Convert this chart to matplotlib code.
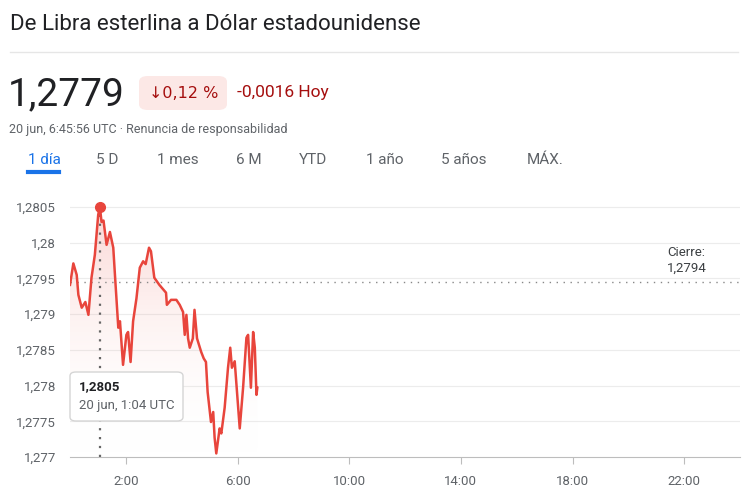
import matplotlib
matplotlib.use("Agg")
import matplotlib.pyplot as plt
import numpy as np
from matplotlib.patches import FancyBboxPatch, Polygon

hours = [0,0.12,0.24,0.3,0.42,0.55,0.66,0.77,0.89,1.01,1.07,1.13,1.2,1.31,1.43,1.55,1.61,1.73,1.79,1.9,2.02,2.08,2.17,2.26,2.38,2.5,2.62,2.71,2.83,2.9,3.02,3.2,3.44,3.47,3.62,3.81,3.93,4.05,4.11,4.17,4.23,4.29,4.4,4.46,4.55,4.7,4.79,4.87,4.93,5.05,5.13,5.18,5.24,5.36,5.42,5.54,5.66,5.74,5.8,5.9,6.08,6.2,6.32,6.38,6.48,6.56,6.62,6.68,6.71]
values = [1.27941,1.27971,1.27955,1.27927,1.27909,1.27917,1.27899,1.27951,1.27983,1.28039,1.2805,1.28029,1.28031,1.27997,1.28015,1.27993,1.27955,1.27881,1.2789,1.27829,1.27871,1.27875,1.27833,1.2789,1.27922,1.27965,1.27974,1.2797,1.27993,1.27988,1.27951,1.27941,1.2793,1.27913,1.2792,1.2792,1.27913,1.27903,1.27871,1.27899,1.27866,1.27853,1.27866,1.27906,1.27866,1.27847,1.27838,1.27833,1.27791,1.27749,1.27763,1.27727,1.27705,1.2774,1.27733,1.27769,1.27825,1.27853,1.27825,1.27834,1.2774,1.27797,1.27867,1.27871,1.27797,1.27875,1.27853,1.27787,1.27797]
close_value = 1.27945
yticks = [1.277,1.2775,1.278,1.2785,1.279,1.2795,1.28,1.2805]
ytick_labels = ["1,277","1,2775","1,278","1,2785","1,279","1,2795","1,28","1,2805"]
xticks = [2,6,10,14,18,22]
xtick_labels = ["2:00","6:00","10:00","14:00","18:00","22:00"]
tabs = ["1 día","5 D","1 mes","6 M","YTD","1 año","5 años","MÁX."]
tab_x = [28,96,157,236,299,366,441,527]
peak_h, peak_v = 1.07, 1.2805

W, H = 745, 493
fig = plt.figure(figsize=(W/100, H/100), dpi=100)
plt.rcParams['font.family'] = ['Roboto', 'DejaVu Sans']
def fx(x): return x/W
def fy(y): return 1-y/H

fig.text(fx(10), fy(24), "De Libra esterlina a Dólar estadounidense", fontsize=16, color="#202124", va="center")
fig.add_artist(plt.Line2D([fx(10), fx(738)], [fy(52), fy(52)], color="#e6e6e6", lw=1))
fig.text(fx(8), fy(95), "1,2779", fontsize=28, color="#202124", va="center")
fig.add_artist(FancyBboxPatch((fx(139), fy(110)), fx(88), 34/H, boxstyle="round,pad=0,rounding_size=0.012", fc="#fce8e6", ec="none"))
fig.text(fx(149), fy(93), "↓0,12 %", fontsize=11.5, color="#a50e0e", va="center", family=['DejaVu Sans'])
fig.text(fx(237), fy(93), "-0,0016 Hoy", fontsize=12.5, color="#a50e0e", va="center")
fig.text(fx(9), fy(129), "20 jun, 6:45:56 UTC · Renuncia de responsabilidad", fontsize=9, color="#5f6368", va="center")
for t, x in zip(tabs, tab_x):
    fig.text(fx(x), fy(160), t, fontsize=11, color="#1a73e8" if t == "1 día" else "#5f6368", va="center")
fig.add_artist(plt.Line2D([fx(28), fx(59)], [fy(172), fy(172)], color="#1a73e8", lw=3))

ax = fig.add_axes([fx(70), fy(457), fx(670), (457-192.7)/H])
ax.set_xlim(0, 24)
ax.set_ylim(1.277, 1.2807)
for s in ["top","right","left"]:
    ax.spines[s].set_visible(False)
ax.spines["bottom"].set_color("#bdbdbd")
ax.set_yticks(yticks)
ax.set_yticklabels(ytick_labels)
ax.set_xticks(xticks)
ax.set_xticklabels(xtick_labels)
ax.tick_params(axis="y", length=0, pad=10, labelsize=9.5, labelcolor="#5f6368")
ax.tick_params(axis="x", length=5, color="#bdbdbd", labelsize=9.5, labelcolor="#5f6368", pad=8)
for yv in yticks[1:]:
    ax.axhline(yv, color="#ececec", lw=0.8, zorder=0)

grad = np.linspace(0, 1, 256).reshape(-1, 1)
from matplotlib.colors import LinearSegmentedColormap
cmap = LinearSegmentedColormap.from_list("g", [(1,1,1,0), (0.92,0.26,0.21,0.22)])
im = ax.imshow(grad, extent=[0, 24, 1.277, 1.2805], origin="lower", aspect="auto", cmap=cmap, zorder=1)
poly = Polygon(list(zip(hours, values)) + [(hours[-1], 1.277), (hours[0], 1.277)], closed=True, transform=ax.transData, fc="none", ec="none")
ax.add_patch(poly)
im.set_clip_path(poly)

ax.plot(hours, values, color="#e8453c", lw=1.8, zorder=3)
ax.plot([0, 24], [close_value, close_value], color="#888888", lw=1, ls=(0, (1, 4)), zorder=2)
ax.plot([peak_h, peak_h], [1.277, peak_v], color="#666666", lw=1.6, ls=(0, (1, 3)), zorder=2)
ax.plot([peak_h], [peak_v], "o", color="#e8453c", ms=7, zorder=4)
ax.text(21.4, 1.27975, "Cierre:\n1,2794", fontsize=9.5, color="#3c4043", va="center", linespacing=1.3)

fig.add_artist(FancyBboxPatch((fx(70), fy(421)), fx(113), 49/H, boxstyle="round,pad=0,rounding_size=0.008", fc="white", ec="#d5d5d5", lw=1, zorder=10))
fig.text(fx(79), fy(387), "1,2805", fontsize=9.5, color="#202124", va="center", weight="bold", zorder=11)
fig.text(fx(79), fy(406), "20 jun, 1:04 UTC", fontsize=9.5, color="#5f6368", va="center", zorder=11)

fig.savefig("out.png", dpi=100)
